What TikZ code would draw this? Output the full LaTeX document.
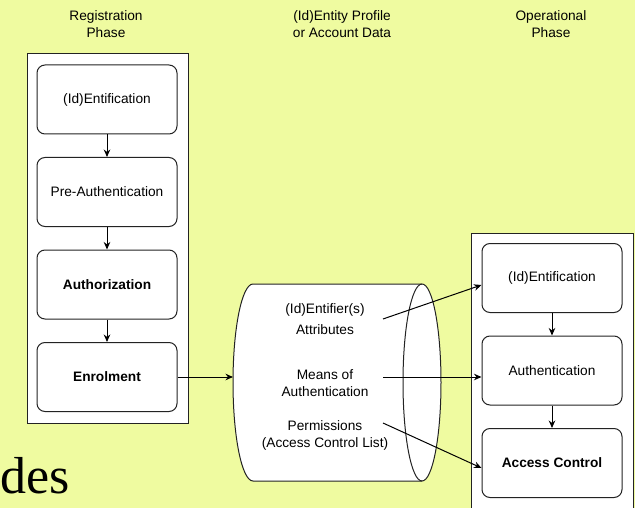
\documentclass[tikz,border=0pt]{standalone}
\usepackage{fontspec}
\setmainfont{Liberation Sans}
\newfontfamily\bigserif{Liberation Serif}
\usetikzlibrary{arrows.meta,calc}
\definecolor{bgyellow}{RGB}{239,251,160}
\definecolor{edge}{RGB}{35,35,35}
\begin{document}
\begin{tikzpicture}[x=1pt,y=-1pt,
  txt/.style={font=\fontsize{13.7}{17}\selectfont, align=center, inner sep=0pt},
  stepbox/.style={draw=edge, line width=1pt, fill=white, rounded corners=8pt,
    minimum width=140pt, minimum height=69pt, inner sep=0pt, align=center,
    font=\fontsize{13.7}{17}\selectfont},
  panel/.style={draw=edge, line width=1pt, fill=white},
  arr/.style={-{Stealth[length=7.5pt,width=6.5pt]}, line width=1pt, draw=black}]
\fill[bgyellow] (0,0) rectangle (635,508);
\useasboundingbox (0,0) rectangle (635,508);

% column titles
\node[txt] (ttl1) at (106,24.5) {Registration\\Phase};
\node[txt] (ttl2) at (342,24.5) {(Id)Entity Profile\\or Account Data};
\node[txt] (ttl3) at (551,24.5) {Operational\\Phase};

% phase panels
\draw[panel] (27,54) rectangle (188,423);
\draw[panel] (471,233) rectangle (633,520);

% registration steps
\node[stepbox] (l1) at (107,99.5) {(Id)Entification};
\node[stepbox] (l2) at (107,192) {Pre-Authentication};
\node[stepbox] (l3) at (107,284.5) {\bfseries Authorization};
\node[stepbox] (l4) at (107,377) {\bfseries Enrolment};
\draw[arr] (l1) -- (l2);
\draw[arr] (l2) -- (l3);
\draw[arr] (l3) -- (l4);

% operational steps
\node[stepbox] (r1) at (552,278) {(Id)Entification};
\node[stepbox] (r2) at (552,370.5) {Authentication};
\node[stepbox] (r3) at (552,463) {\bfseries Access Control};
\draw[arr] (r1) -- (r2);
\draw[arr] (r2) -- (r3);

% data store (horizontal cylinder)
\filldraw[fill=white, draw=edge, line width=1pt]
  (253,284) -- (422,284)
  arc[start angle=-90, end angle=90, x radius=19, y radius=98.5]
  -- (253,481)
  arc[start angle=90, end angle=270, x radius=20, y radius=98.5] -- cycle;
\draw[edge, line width=1pt] (422,284)
  arc[start angle=-90, end angle=-270, x radius=19, y radius=98.5];
\coordinate (cylw) at (233,377);

\node[txt] (t1) at (325,319.5) {(Id)Entifier(s)\\[4pt]Attributes};
\node[txt] (t2) at (325,383) {Means of\\Authentication};
\node[txt] (t3) at (325,435.5) {Permissions\\(Access Control List)};

\coordinate (s1) at (383,319);
\coordinate (s2) at (383,377);
\coordinate (s3) at (383,423);

\draw[arr] (l4.east) -- (cylw);
\draw[arr] (s1) -- ($(r1.west)+(0,7)$);
\draw[arr] (s2) -- (s2 -| r2.west);
\draw[arr] (s3) -- ($(r3.west)+(0,5)$);

% stray heading fragment
\node[anchor=base west, inner sep=0pt, font=\bigserif\fontsize{52}{52}\selectfont] (des) at (0,493) {des};
\end{tikzpicture}
\end{document}
